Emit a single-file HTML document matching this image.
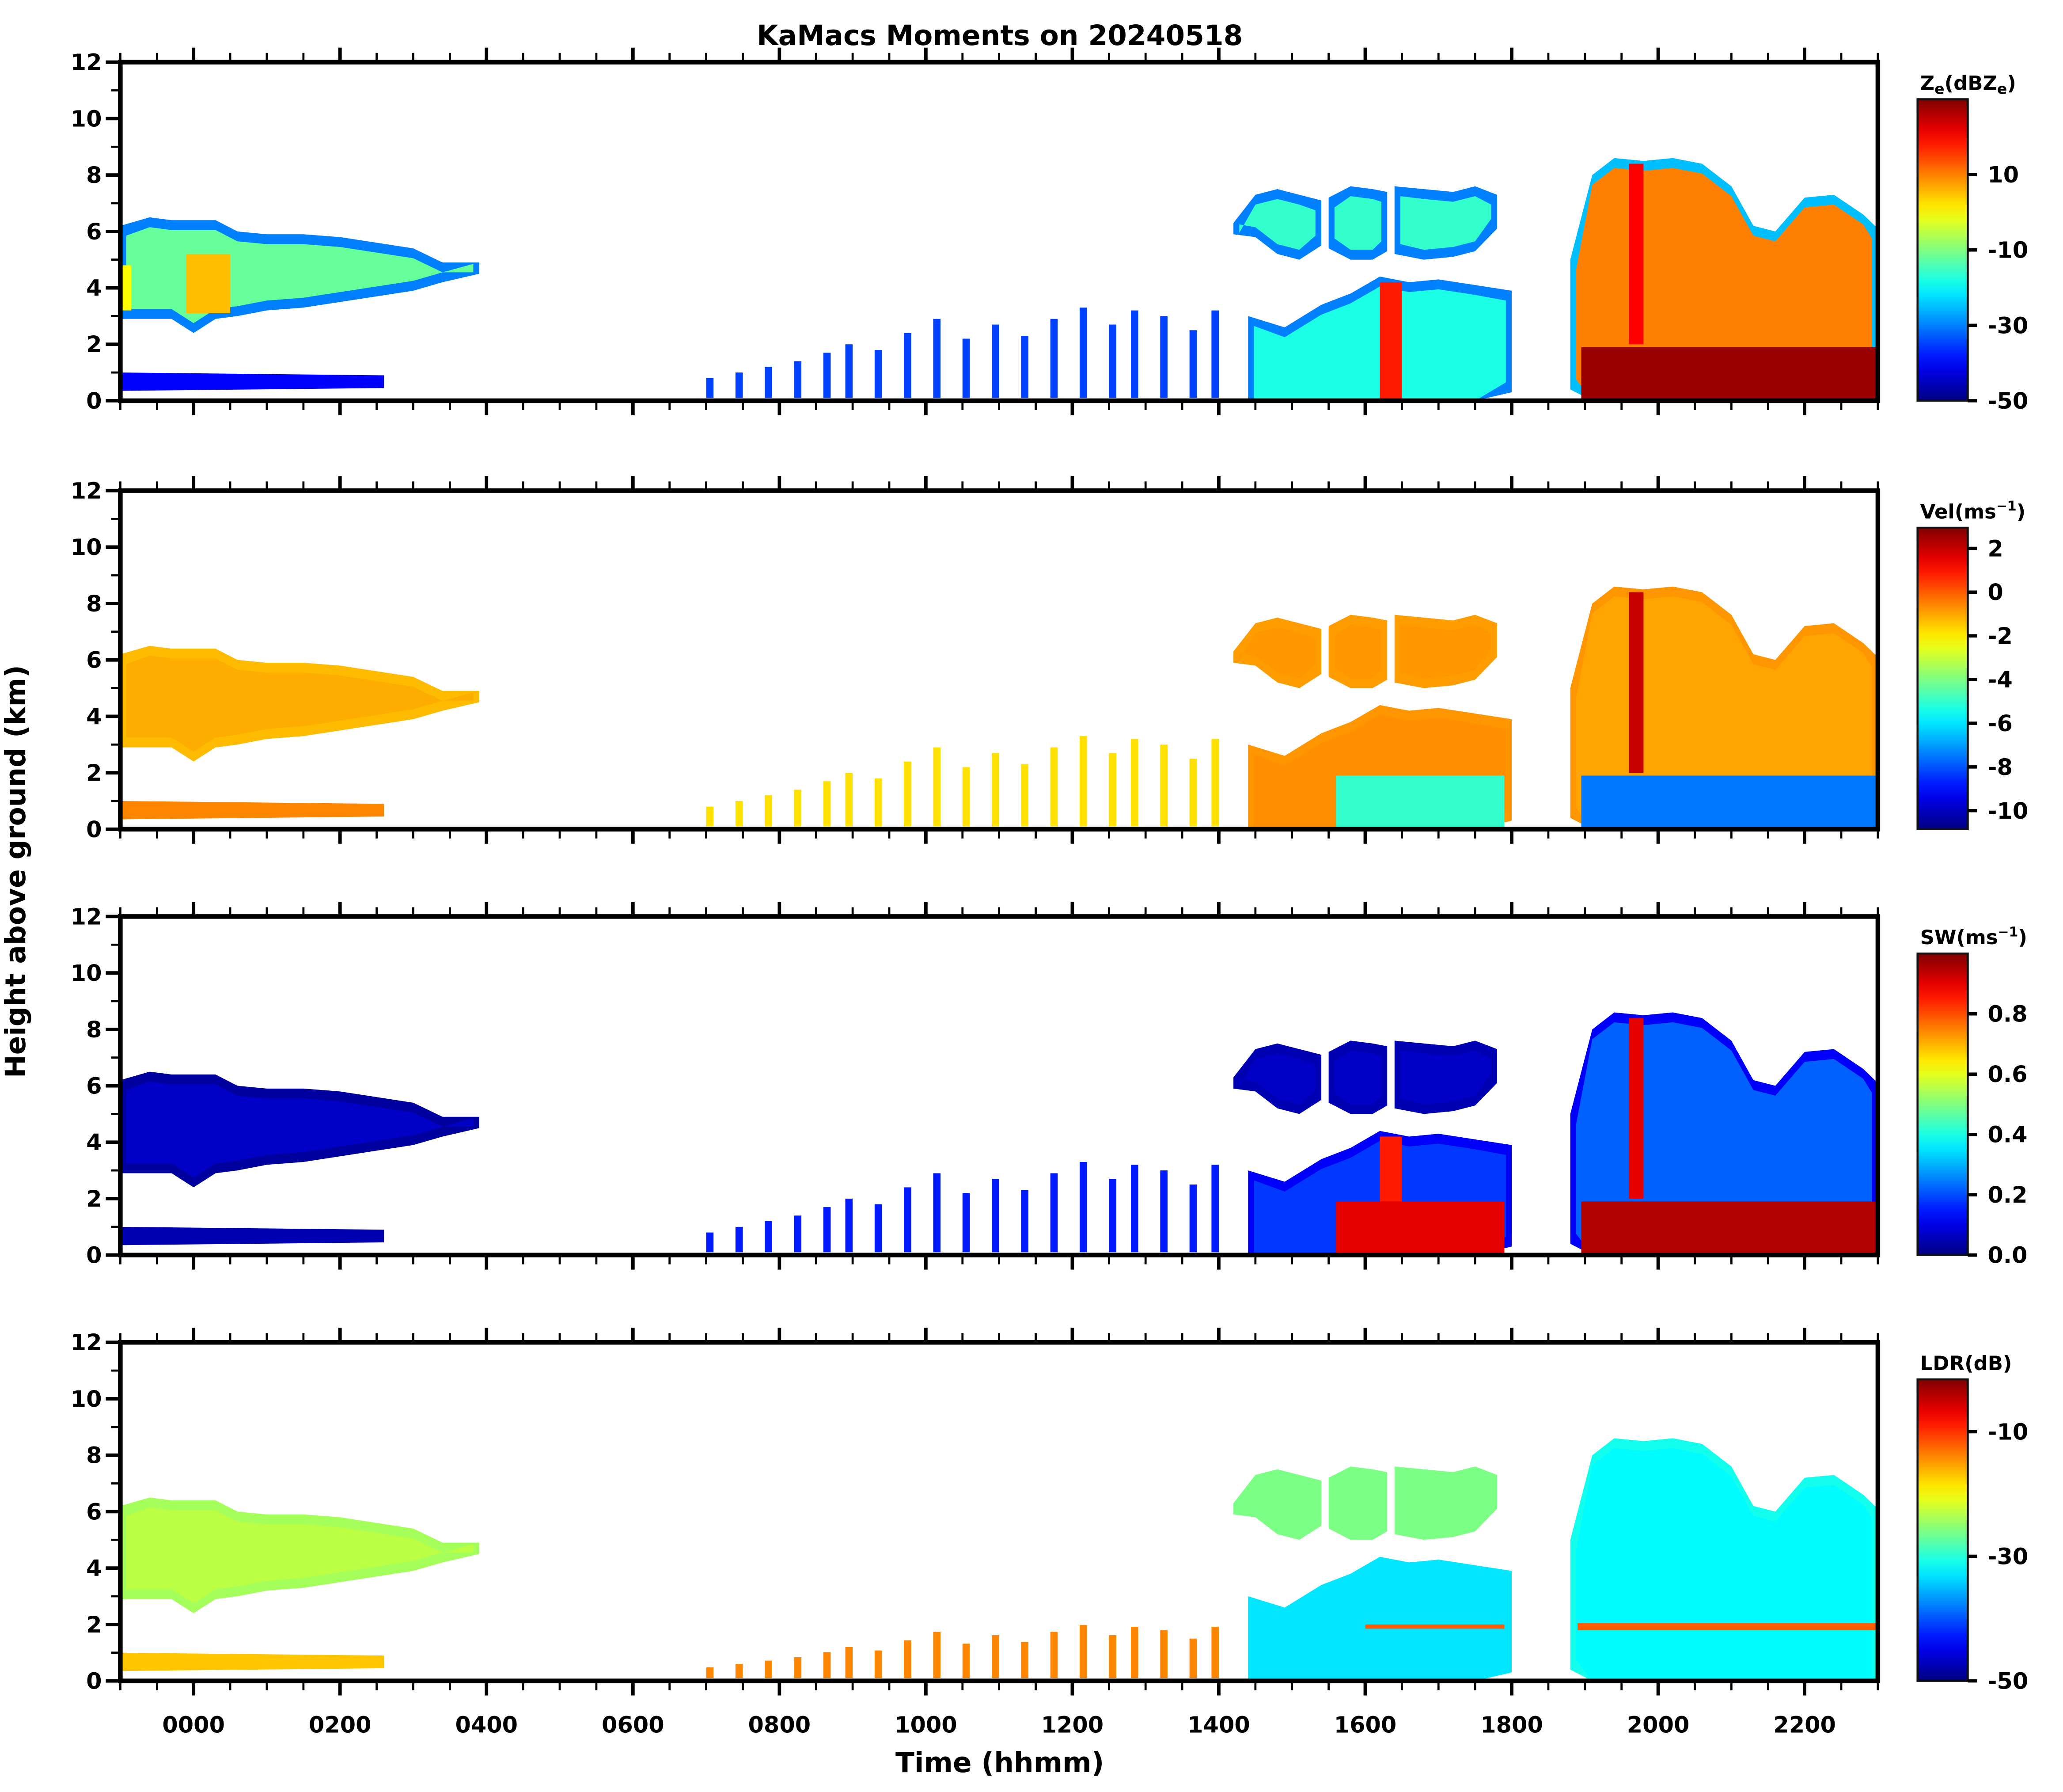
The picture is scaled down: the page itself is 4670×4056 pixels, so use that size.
<!DOCTYPE html>
<html><head><meta charset="utf-8"><style>
html,body{margin:0;padding:0;background:#fff}
svg{display:block}
text{font-family:"DejaVu Sans","Liberation Sans",sans-serif;font-weight:bold;fill:#000}
</style></head><body>
<svg id="chart" width="4670" height="4056" viewBox="0 0 1560 1355" preserveAspectRatio="none" xmlns="http://www.w3.org/2000/svg">
<text x="756" y="34" font-size="21" text-anchor="middle">KaMacs Moments on 20240518</text>
<text transform="translate(19,659) rotate(-90)" font-size="21" text-anchor="middle">Height above ground (km)</text>
<text x="756" y="1340" font-size="21" text-anchor="middle">Time (hhmm)</text>
<g id="plots"></g>
</svg>
<script>
// ---- data (time in hours, height in km) ----
const featureNames = ["morning","drizzle","upper1","upper2","upper3","mid","storm","scatter"];
const morningT    = [-1,-0.6,-0.3,0,0.3,0.6,1,1.5,2,2.5,3,3.4,3.9];
const morningTop  = [6.2,6.5,6.4,6.4,6.4,6.0,5.9,5.9,5.8,5.6,5.4,4.9,4.9];
const morningBase = [2.9,2.9,2.9,2.4,2.9,3.0,3.2,3.3,3.5,3.7,3.9,4.2,4.5];
const drizzleT    = [-1,2.6];
const drizzleTop  = [1.0,0.9];
const drizzleBase = [0.35,0.45];
const upper1T = [14.2,14.5,14.8,15.1,15.4];
const upper1Top = [6.3,7.3,7.5,7.3,7.1];
const upper1Base = [5.9,5.8,5.2,5.0,5.5];
const upper2T = [15.5,15.8,16.1,16.3];
const upper2Top = [7.2,7.6,7.5,7.4];
const upper2Base = [5.4,5.0,5.0,5.3];
const upper3T = [16.4,16.8,17.2,17.5,17.8];
const upper3Top = [7.6,7.5,7.4,7.6,7.3];
const upper3Base = [5.2,5.0,5.1,5.3,6.1];
const midT    = [14.4,14.9,15.4,15.8,16.2,16.6,17,17.5,18];
const midTop  = [3.0,2.6,3.4,3.8,4.4,4.2,4.3,4.1,3.9];
const midBase = [0,0,0,0,0,0,0,0,0.3];
const stormT    = [18.8,19.1,19.4,19.8,20.2,20.6,21,21.3,21.6,22,22.4,22.8,23];
const stormTop  = [5.0,8.0,8.6,8.5,8.6,8.4,7.6,6.2,6.0,7.2,7.3,6.6,6.1];
const stormBase = [0.4,0,0,0,0,0,0,0,0,0,0,0,0];
const scatterT   = [7.0,7.4,7.8,8.2,8.6,8.9,9.3,9.7,10.1,10.5,10.9,11.3,11.7,12.1,12.5,12.8,13.2,13.6,13.9];
const scatterTop = [0.8,1.0,1.2,1.4,1.7,2.0,1.8,2.4,2.9,2.2,2.7,2.3,2.9,3.3,2.7,3.2,3.0,2.5,3.2];
// values per feature (outer, inner) for each moment
const zeOuter  = [-30,-40,-30,-30,-30,-30,-25,-35];
const zeInner  = [-12,-38,-16,-16,-16,-18,10,-35];
const velOuter = [-1.3,-0.6,-0.9,-0.9,-0.9,-0.8,-0.8,-1.8];
const velInner = [-1.1,-0.6,-0.8,-0.8,-0.8,-0.7,-1.0,-1.8];
const swOuter  = [0.03,0.05,0.05,0.05,0.05,0.12,0.12,0.15];
const swInner  = [0.07,0.05,0.07,0.07,0.07,0.18,0.22,0.15];
const ldrOuter = [-24,-17,-26,-26,-26,-33,-31,-14];
const ldrInner = [-23,-17,-26,-26,-26,-33,-32,-14];
// extra bands: [t0,t1,z0,z1] with per-moment values (null = not drawn)
const bandBox = [[-0.1,0.5,3.1,5.2],[-1,-0.85,3.2,4.8],[16.2,16.5,0,4.2],[15.6,17.9,0,1.9],[18.95,23,0,1.9],[19.6,19.8,2,8.4],[16,17.9,1.85,2.0],[18.9,23,1.8,2.05]];
const bandZe  = [5,0,18,null,28,20,null,null];
const bandVel = [null,null,null,-5,-7.5,2,null,null];
const bandSw  = [null,null,0.85,0.9,0.95,0.9,null,null];
const bandLdr = [null,null,null,null,null,null,-12,-12];
// colorbar ranges & ticks
const ranges = [[-50,30],[-10.85,2.95],[0,1],[-50,-1.6]];
const cbTicks = [[-50,-30,-10,10],[-10,-8,-6,-4,-2,0,2],[0,0.2,0.4,0.6,0.8],[-50,-30,-10]];
const cbTickLabels = [["-50","-30","-10","10"],["-10","-8","-6","-4","-2","0","2"],["0.0","0.2","0.4","0.6","0.8"],["-50","-30","-10"]];
const cbTitles = ["Z<tspan font-size='11' dy='3'>e</tspan><tspan dy='-3'>(dBZ</tspan><tspan font-size='11' dy='3'>e</tspan><tspan dy='-3'>)</tspan>","Vel(ms<tspan font-size='10' dy='-6'>−1</tspan><tspan dy='6'>)</tspan>","SW(ms<tspan font-size='10' dy='-6'>−1</tspan><tspan dy='6'>)</tspan>","LDR(dB)"];
const xTickHours = [0,2,4,6,8,10,12,14,16,18,20,22];
const xTickLabels = ["0000","0200","0400","0600","0800","1000","1200","1400","1600","1800","2000","2200"];
const yTickVals = [0,2,4,6,8,10,12];

// ---- geometry ----
const X0=91, X1=1420, T0=-1, T1=23, PH=256;
const panelTops=[47,371,693,1015];
const CBX=1450, CBW=38;
const NS="http://www.w3.org/2000/svg";
function xs(t){return X0+(t-T0)/(T1-T0)*(X1-X0);}
function ys(p,z){return panelTops[p]+PH-z/12*PH;}
function clamp(v){return Math.max(0,Math.min(1,v));}
function jet(f){f=clamp(f);const r=clamp(1.5-Math.abs(4*f-3)),g=clamp(1.5-Math.abs(4*f-2)),b=clamp(1.5-Math.abs(4*f-1));
 return `rgb(${Math.round(r*255)},${Math.round(g*255)},${Math.round(b*255)})`;}
function col(p,v){const r=ranges[p];return jet((v-r[0])/(r[1]-r[0]));}
function mk(tag,attrs,parent){const e=document.createElementNS(NS,tag);for(const k in attrs)e.setAttribute(k,attrs[k]);parent.appendChild(e);return e;}
const root=document.getElementById('plots');
const feats=[[morningT,morningTop,morningBase],[drizzleT,drizzleTop,drizzleBase],[upper1T,upper1Top,upper1Base],[upper2T,upper2Top,upper2Base],[upper3T,upper3Top,upper3Base],[midT,midTop,midBase],[stormT,stormTop,stormBase]];
const outers=[zeOuter,velOuter,swOuter,ldrOuter], inners=[zeInner,velInner,swInner,ldrInner], bands=[bandZe,bandVel,bandSw,bandLdr];
const panelNames=["reflectivity","velocity","spectrum-width","ldr"];
function polyPts(p,T,Top,Base,shr){
 const n=T.length;let pts=[];const dz=0.35,dt=0.08;
 for(let i=0;i<n;i++){let t=T[i];if(shr){if(i==0)t+=dt;if(i==n-1)t-=dt;}pts.push(xs(t)+","+ys(p,Top[i]-(shr?dz:0)));}
 for(let i=n-1;i>=0;i--){let t=T[i];if(shr){if(i==0)t+=dt;if(i==n-1)t-=dt;}const b=Base[i]>0&&shr?Base[i]+dz:Base[i];pts.push(xs(t)+","+ys(p,b));}
 return pts.join(" ");}
for(let p=0;p<4;p++){
 const g=mk('g',{},root);
 
 
 const clipId='clip'+p;
 const cp=mk('clipPath',{id:clipId},g);mk('rect',{x:X0,y:panelTops[p],width:X1-X0,height:PH},cp);
 const data=mk('g',{'clip-path':`url(#${clipId})`},g);
 for(let f=0;f<feats.length;f++){
  const [T,Top,Base]=feats[f];
  const o=mk('polygon',{points:polyPts(p,T,Top,Base,false),fill:col(p,outers[p][f])},data);
  
  
  if(T.length>2){
   const i=mk('polygon',{points:polyPts(p,T,Top,Base,true),fill:col(p,inners[p][f])},data);
   
   
  }
 }
 for(let s=0;s<scatterT.length;s++){
  const top=p==3?scatterTop[s]*0.6:scatterTop[s];
  const r=mk('rect',{x:xs(scatterT[s]),y:ys(p,top),width:xs(0.1)-xs(0),height:ys(p,0.1)-ys(p,top),fill:col(p,outers[p][7])},data);
  
  
 }
 for(let b=0;b<bandBox.length;b++){
  const v=bands[p][b];if(v===null)continue;const bb=bandBox[b];
  const r=mk('rect',{x:xs(bb[0]),y:ys(p,bb[3]),width:xs(bb[1])-xs(bb[0]),height:ys(p,bb[2])-ys(p,bb[3]),fill:col(p,v)},data);
  
  
 }
 const top=panelTops[p],bot=top+PH;
 for(let k=0;k<=48;k++){const h=T0+k*0.5;const major=(h>=0&&Math.abs(h%2)<1e-9);const L=major?11:7;const x=xs(h);
  mk('line',{x1:x,x2:x,y1:bot,y2:bot+L,stroke:'#000','stroke-width':major?2.6:1.6},g);
  mk('line',{x1:x,x2:x,y1:top,y2:top-L,stroke:'#000','stroke-width':major?2.6:1.6},g);}
 for(let z=0;z<=12;z++){const major=z%2==0;const y=ys(p,z);
  mk('line',{x1:X0,x2:X0-(major?11:7),y1:y,y2:y,stroke:'#000','stroke-width':major?2.6:1.6},g);}
 for(const z of yTickVals){const t=mk('text',{x:X0-14,y:ys(p,z)+6,'font-size':17,'text-anchor':'end'},g);t.textContent=z;
  
  }
 if(p==3){xTickHours.forEach((h,i)=>{const t=mk('text',{x:xs(h),y:1310,'font-size':17,'text-anchor':'middle'},g);t.textContent=xTickLabels[i];
  
  });}
 const fr=mk('rect',{x:X0,y:top,width:X1-X0,height:PH,fill:'none',stroke:'#000','stroke-width':3.5},g);
 
 
 const cbTop=top+28;
 const gid='grad'+p;const gr=mk('linearGradient',{id:gid,x1:0,y1:1,x2:0,y2:0},g);
 for(let k=0;k<=20;k++)mk('stop',{offset:k/20,'stop-color':jet(k/20)},gr);
 const cb=mk('rect',{x:CBX,y:cbTop,width:CBW,height:bot-cbTop,fill:`url(#${gid})`,stroke:'#111','stroke-width':1.5},g);
 
 
 const rr=ranges[p];
 cbTicks[p].forEach((v,i)=>{const y=bot-(v-rr[0])/(rr[1]-rr[0])*(bot-cbTop);
  mk('line',{x1:CBX+CBW,x2:CBX+CBW+7,y1:y,y2:y,stroke:'#000','stroke-width':2.5},g);
  const t=mk('text',{x:CBX+CBW+15,y:y+6,'font-size':17},g);t.textContent=cbTickLabels[p][i];
  
  });
 const ct=mk('text',{x:CBX+2,y:top+21,'font-size':15},g);ct.innerHTML=cbTitles[p];
 
 
}
</script>
</body></html>
